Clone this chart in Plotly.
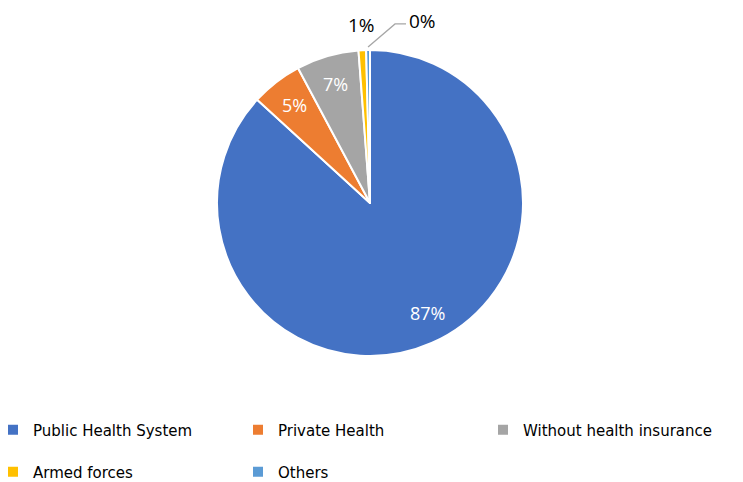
import math
import plotly.graph_objects as go

categories = ["Public Health System", "Private Health", "Without health insurance", "Armed forces", "Others"]
values = [86.8, 5.4, 6.6, 0.8, 0.4]
colors = ["#4472C4", "#ED7D31", "#A5A5A5", "#FFC000", "#5B9BD5"]

# layout constants (figure pixels; page body adds an 8px offset)
W, H = 743, 482
B = 100                      # bottom margin reserved for the legend
PH = H - B                   # plot-area height
CX, CY, R = 362, 195, 153
FONT = "Open Sans"
LEG_FONT = "DejaVu Sans"

total = sum(values)
pct_text = [f"{round(v / total * 100)}%" for v in values]

# leading blank line widens the legend row pitch
legend_labels = [" <br>" + c for c in categories]


def px(x, y):
    return x / W, (PH - y) / PH


fig = go.Figure(go.Pie(
    labels=legend_labels,
    values=values,
    customdata=categories,
    sort=False,
    direction="clockwise",
    rotation=0,
    marker=dict(colors=colors, line=dict(color="white", width=2)),
    textinfo="none",
    domain=dict(x=[(CX - R) / W, (CX + R) / W], y=[(PH - CY - R) / PH, (PH - CY + R) / PH]),
    hovertemplate="%{customdata}: %{percent}<extra></extra>",
))


def mid_point(i, rf, dang=0.0):
    cum = sum(values[:i]) + values[i] / 2
    ang = cum / total * 2 * math.pi + math.radians(dang)
    return CX + rf * R * math.sin(ang), CY - rf * R * math.cos(ang)


annotations = []
shapes = []
for i, t in enumerate(pct_text):
    if i < 3:
        x, y = mid_point(i, 0.81, -4 if i == 0 else 0)
        ax, ay = px(x, y)
        annotations.append(dict(x=ax, y=ay, xref="paper", yref="paper", text=t, showarrow=False,
                                font=dict(color="white", size=18, family=FONT),
                                xanchor="center", yanchor="middle"))
    elif i == 3:
        x, y = mid_point(i, 1.165)
        ax, ay = px(x, y)
        annotations.append(dict(x=ax, y=ay, xref="paper", yref="paper", text=t, showarrow=False,
                                font=dict(color="black", size=19, family=FONT),
                                xanchor="center", yanchor="middle"))
    else:
        sx, sy = mid_point(i, 1.02)
        ex, ey = sx + 27, sy - 23
        fx, fy = ex + 11, ey
        p0, p1, p2 = px(sx, sy), px(ex, ey), px(fx, fy)
        shapes.append(dict(type="path", xref="paper", yref="paper",
                           path=f"M {p0[0]} {p0[1]} L {p1[0]} {p1[1]} L {p2[0]} {p2[1]}",
                           line=dict(color="#A6A6A6", width=1.3)))
        tx, ty = px(fx + 1, fy - 3)
        annotations.append(dict(x=tx, y=ty, xref="paper", yref="paper", text=t, showarrow=False,
                                font=dict(color="black", size=19, family=FONT),
                                xanchor="left", yanchor="middle"))

lx, ly = px(-15, 386)

fig.update_layout(
    width=W, height=H,
    margin=dict(l=0, r=0, t=0, b=B, autoexpand=False),
    paper_bgcolor="white",
    plot_bgcolor="white",
    font=dict(family=LEG_FONT, size=15, color="black"),
    annotations=annotations,
    shapes=shapes,
    legend=dict(
        orientation="h",
        x=lx, y=ly, xanchor="left", yanchor="top",
        entrywidth=200, entrywidthmode="pixels",
        font=dict(size=15, family=LEG_FONT),
        itemwidth=30,
        valign="bottom",
        traceorder="normal",
    ),
    showlegend=True,
)

fig.write_html("out.html")
